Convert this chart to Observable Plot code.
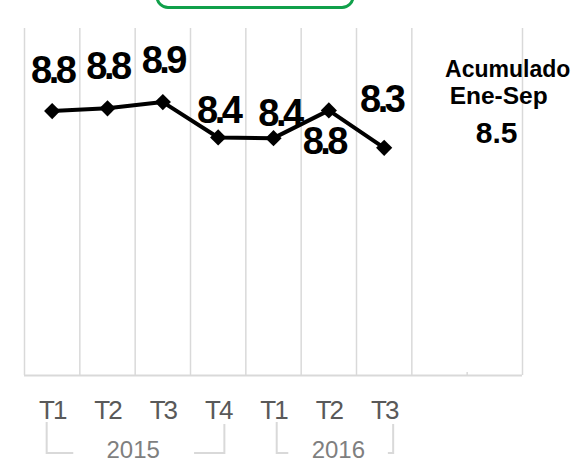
<!DOCTYPE html>
<html>
<head>
<meta charset="utf-8">
<script src="https://cdn.jsdelivr.net/npm/d3@7"></script>
<script src="https://cdn.jsdelivr.net/npm/@observablehq/plot@0.6"></script>
<style>
  html, body { margin: 0; padding: 0; background: #fff; }
  #chart { position: relative; width: 587px; height: 462px; overflow: hidden; }
  .datalabel text { letter-spacing: -3.5px; }
  .qaxis text { letter-spacing: -2px; }
</style>
</head>
<body>
<div id="chart"></div>
<script>
// ---- data ----
const quarters = ["T1", "T2", "T3", "T4", "T1", "T2", "T3"];
const values = [8.81, 8.85, 8.94, 8.43, 8.42, 8.82, 8.28];
const years = ["2015", "2016"];
const yearFirst = [0, 4];
const yearLast = [3, 6];
const slotCount = 9;               // category slots, including two empty ones
const summaryLines = ["Acumulado", "Ene-Sep"];
const summaryValue = 8.5;

// ---- layout / style ----
const FONT = "'Liberation Sans', Arial, sans-serif";
const labelOffsets = [
  {dx: 0, dy: -40}, {dx: 0, dy: -41}, {dx: 0, dy: -41},
  {dx: 0, dy: -27}, {dx: 6, dy: -24}, {dx: -5, dy: 31}, {dx: -3, dy: -48}
];
const yearDx = [-2, 9.5];
const bracketLayout = [
  {l: -5, r: 6.7, innerL: 26.6, innerR: 30.3},
  {l: 3.7, r: 9.5, innerL: 11.6, innerR: 5.3}
];

const data = values.map((v, i) => ({i, v, q: quarters[i]}));
const fmt = d3.format(".1f");

const labelMarks = data.map((d, k) => Plot.text([d], {
  x: "i", y: "v", text: dd => fmt(dd.v),
  dx: labelOffsets[k].dx, dy: labelOffsets[k].dy,
  fontSize: 38, fontWeight: "bold", fill: "black", lineAnchor: "middle",
  className: "datalabel"
}));

const yearMarks = years.map((y, g) => Plot.text([{x: (yearFirst[g] + yearLast[g]) / 2, t: y}], {
  x: "x", text: "t", frameAnchor: "bottom", dy: 75, dx: yearDx[g],
  fontSize: 24, fill: "#7f7f7f", lineAnchor: "middle"
}));

const chart = Plot.plot({
  width: 587,
  height: 462,
  marginLeft: 24,
  marginRight: 65,
  marginTop: 28,
  marginBottom: 87,
  x: {domain: [-0.5, slotCount - 0.5], axis: null},
  y: {domain: [5, 10], axis: null},
  style: {fontFamily: FONT, background: "white", overflow: "visible"},
  marks: [
    Plot.ruleX(d3.range(slotCount + 1).map(i => i - 0.5), {stroke: "#d9d9d9", strokeWidth: 1.5}),
    Plot.ruleY([5], {stroke: "#d9d9d9", strokeWidth: 2}),
    Plot.axisX({
      ticks: d3.range(quarters.length), tickFormat: i => quarters[i],
      tickSize: 0, tickPadding: 25, fontSize: 26, color: "#595959", dx: 0,
      className: "qaxis"
    }),
    Plot.line(data, {x: "i", y: "v", stroke: "black", strokeWidth: 4}),
    Plot.dot(data, {x: "i", y: "v", symbol: "diamond2", r: 7.3, fill: "black", stroke: "none"}),
    ...labelMarks,
    ...yearMarks
  ]
});

document.getElementById("chart").appendChild(chart);

// ---- annotations positioned with the plot's own x scale ----
const xs = chart.scale("x");
const svg = d3.select(chart);
const ann = svg.append("g");

// brackets of the multi-level category axis
years.forEach((y, g) => {
  const b = bracketLayout[g];
  const L = xs.apply(yearFirst[g]) + b.l;
  const R = xs.apply(yearLast[g]) + b.r;
  const yb = 453;
  ann.append("path")
    .attr("d", `M${L},422V${yb}H${L + b.innerL}`)
    .attr("fill", "none").attr("stroke", "#d9d9d9").attr("stroke-width", 2);
  ann.append("path")
    .attr("d", `M${R - b.innerR},${yb}H${R}V424`)
    .attr("fill", "none").attr("stroke", "#d9d9d9").attr("stroke-width", 2);
});

// summary text box (white fill hides the gridline under it)
ann.append("rect").attr("x", 430).attr("y", 0).attr("width", 75).attr("height", 372).attr("fill", "white");
const sx = xs.apply(slotCount - 1.5);
ann.append("text").attr("x", sx + 41).attr("y", 76.5).attr("text-anchor", "middle")
  .attr("font-family", FONT).attr("font-weight", "bold").attr("font-size", 23).text(summaryLines[0]);
ann.append("text").attr("x", sx + 32).attr("y", 104).attr("text-anchor", "middle")
  .attr("font-family", FONT).attr("font-weight", "bold").attr("font-size", 24.5).text(summaryLines[1]);
ann.append("text").attr("x", sx + 30).attr("y", 143).attr("text-anchor", "middle")
  .attr("font-family", FONT).attr("font-weight", "bold").attr("font-size", 30).text(fmt(summaryValue));

// green rounded box at top (cut by the picture edge)
ann.append("rect").attr("x", 157).attr("y", -32).attr("width", 196).attr("height", 39.5).attr("rx", 11)
  .attr("fill", "none").attr("stroke", "#10a04a").attr("stroke-width", 3);
</script>
</body>
</html>
